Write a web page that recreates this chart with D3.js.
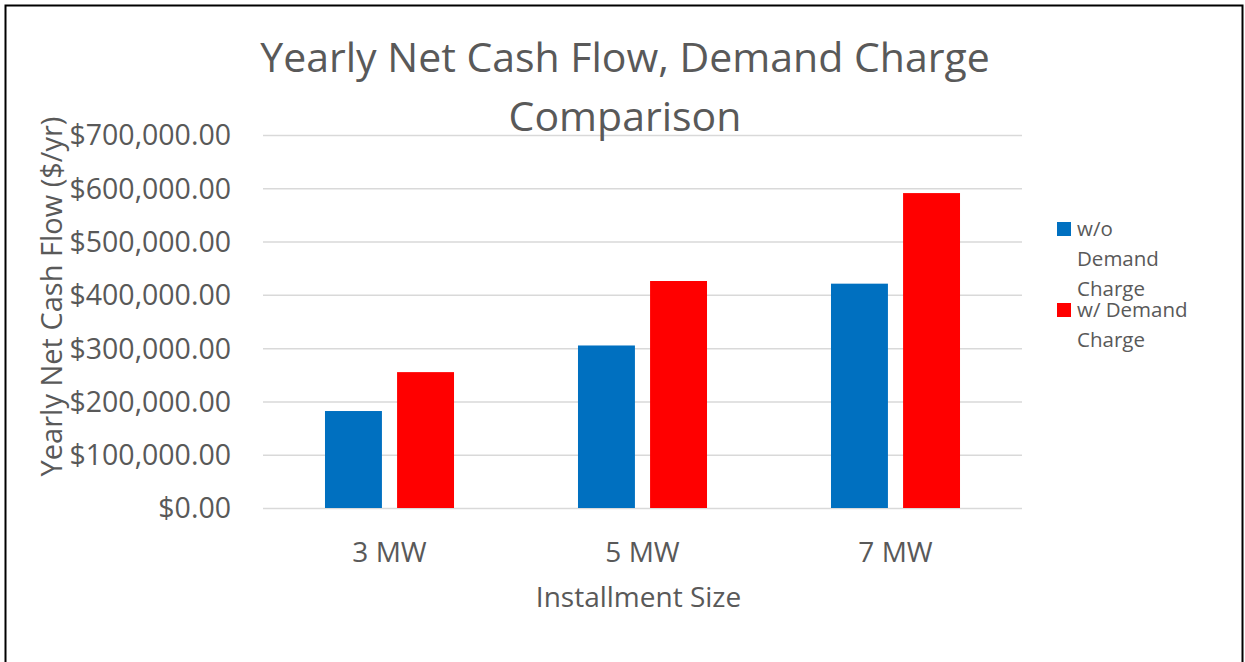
<!DOCTYPE html>
<html>
<head>
<meta charset="utf-8">
<script src="https://cdn.jsdelivr.net/npm/d3@7"></script>
<style>
  body { margin: 0; background: #fff; }
  text { font-family: "Open Sans", sans-serif; fill: #595959; }
</style>
</head>
<body>
<div id="chart"></div>
<script>
const width = 1245,
    height = 662;

const categories = ["3 MW", "5 MW", "7 MW"]
const seriesNames = ["w/o Demand Charge", "w/ Demand Charge"]
const withoutDemand = [182000, 305000, 421000]
const withDemand = [255000, 426000, 591000]
const yTicks = [0, 100000, 200000, 300000, 400000, 500000, 600000, 700000]

const margin = { top: 135, right: 223, bottom: 154, left: 263 }

const svg = d3.select("#chart")
    .append("svg")
    .attr("width", width)
    .attr("height", height)

// outer frame
svg.append("rect")
    .attr("x", 5.5)
    .attr("y", 5.5)
    .attr("width", 1237)
    .attr("height", 670)
    .attr("fill", "none")
    .attr("stroke", "#000")
    .attr("stroke-width", 2)

const x0 = d3.scaleBand()
    .domain(categories)
    .range([margin.left, width - margin.right])
    .paddingInner(0.49)
    .paddingOuter(0.245)

const x1 = d3.scaleBand()
    .domain(seriesNames)
    .range([0, x0.bandwidth()])
    .paddingInner(0.21)

const y = d3.scaleLinear()
    .domain([0, 700000])
    .range([height - margin.bottom, margin.top])

const color = d3.scaleOrdinal()
    .domain(seriesNames)
    .range(["#0070c0", "#ff0000"])

const fmt = v => "$" + d3.format(",.2f")(v)

// gridlines + y labels
const yAxis = svg.append("g")
    .attr("transform", `translate(${margin.left},0)`)
    .call(d3.axisLeft(y).tickValues(yTicks).tickFormat(fmt).tickSize(-(width - margin.left - margin.right)).tickPadding(32))
yAxis.select(".domain").remove()
yAxis.selectAll(".tick line").attr("stroke", "#d9d9d9").attr("stroke-width", 1.5)
yAxis.selectAll(".tick text")
    .style("font-size", "28.5px")
    .attr("fill", "#595959")
    .attr("dy", "0.35em")

const rows = categories.map((c, i) => ({ cat: c, values: [withoutDemand[i], withDemand[i]] }))

svg.selectAll(null)
    .data(rows)
    .join("g")
    .attr("transform", d => `translate(${x0(d.cat)},0)`)
    .selectAll("rect")
    .data(d => d.values.map((v, j) => ({ key: seriesNames[j], value: v })))
    .join("rect")
    .attr("x", d => x1(d.key))
    .attr("y", d => y(d.value))
    .attr("width", x1.bandwidth())
    .attr("height", d => y(0) - y(d.value))
    .attr("fill", d => color(d.key))

// x axis labels
const xAxis = svg.append("g")
    .attr("transform", `translate(0,${y(0)})`)
    .call(d3.axisBottom(x0).tickSize(0).tickPadding(34))
xAxis.select(".domain").remove()
xAxis.selectAll(".tick text")
    .style("font-size", "28px")
    .attr("fill", "#595959")

svg.append("text")
    .attr("x", (margin.left + width - margin.right) / 2 - 4)
    .attr("y", 607)
    .attr("text-anchor", "middle")
    .style("font-size", "28px")
    .text("Installment Size")

svg.append("text")
    .attr("transform", `translate(62,${(margin.top + height - margin.bottom) / 2 - 25}) rotate(-90)`)
    .attr("text-anchor", "middle")
    .style("font-size", "29px")
    .text("Yearly Net Cash Flow ($/yr)")

// title
const title = svg.append("text")
    .attr("x", 625)
    .attr("text-anchor", "middle")
    .style("font-size", "41px")
title.append("tspan").attr("x", 625).attr("y", 72).text("Yearly Net Cash Flow, Demand Charge")
title.append("tspan").attr("x", 625).attr("y", 131).text("Comparison")

// legend
const legendLines = [["w/o", "Demand", "Charge"], ["w/ Demand", "Charge"]]
const legendTop = [222, 303]
const legend = svg.selectAll(null)
    .data(seriesNames)
    .join("g")
    .attr("transform", (d, i) => `translate(1057,${legendTop[i]})`)
legend.append("rect")
    .attr("width", 14)
    .attr("height", 14)
    .attr("fill", d => color(d))
legend.append("text")
    .style("font-size", "20.5px")
    .selectAll("tspan")
    .data((d, i) => legendLines[i])
    .join("tspan")
    .attr("x", 20)
    .attr("y", (d, i) => 14 + i * 30)
    .text(d => d)
</script>
</body>
</html>
